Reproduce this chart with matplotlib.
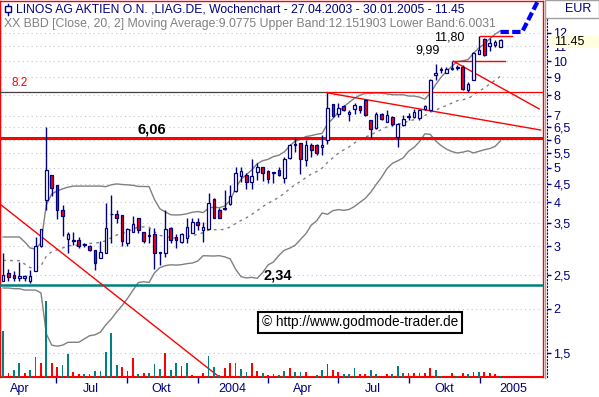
import numpy as np
import pandas as pd
import matplotlib
matplotlib.use('Agg')
import matplotlib.pyplot as plt
import matplotlib.dates as mdates
from matplotlib.patches import Rectangle
from matplotlib.lines import Line2D

# ---------------- data ----------------
dates = pd.date_range('2003-04-24', periods=93, freq='7D')

opens = [2.39, 2.52, 2.49, 2.44, 2.45, 2.39, 2.56, 3.00, 4.06, 4.77,
         4.47, 3.80, 3.14, 3.13, 3.13, 3.03, 3.01, 2.94, 2.79, 2.88,
         3.70, 3.70, 3.67, 3.06, 3.30, 3.62, 3.30, 3.21, 3.25, 2.88,
         2.88, 3.39, 3.18, 3.08, 3.16, 3.28, 3.52, 3.33, 3.36, 4.08,
         3.80, 3.83, 3.95, 4.29, 4.75, 4.78, 4.57, 4.86, 5.02, 4.91,
         4.82, 4.93, 4.67, 5.32, 5.81, 5.87, 5.26, 5.78, 5.80, 5.71,
         5.99, 7.55, 7.11, 7.46, 7.08, 7.32, 7.49, 7.77, 6.82, 6.49,
         7.07, 6.75, 6.97, 6.12, 6.60, 6.96, 6.96, 6.93, 7.34, 7.26,
         9.14, 9.43, 9.27, 9.47, 9.58, 9.65, 8.26, 8.87, 10.47, 11.53,
         11.00, 11.10, 10.98]
highs = [2.88, 2.59, 2.55, 2.72, 2.49, 2.58, 3.20, 3.37, 6.53, 4.77,
         4.47, 3.93, 3.29, 3.29, 3.20, 3.07, 3.03, 2.94, 3.10, 3.97,
         4.19, 3.80, 3.67, 3.38, 3.65, 3.62, 3.30, 3.38, 3.39, 2.89,
         3.80, 3.40, 3.26, 3.27, 3.60, 3.60, 3.62, 3.52, 4.24, 4.10,
         3.85, 4.33, 4.47, 5.04, 5.04, 4.84, 5.31, 5.15, 5.04, 4.93,
         4.86, 5.04, 5.36, 5.84, 6.06, 5.87, 5.99, 5.87, 5.84, 6.19,
         8.14, 7.58, 7.61, 7.53, 7.28, 7.61, 7.49, 7.80, 6.82, 7.17,
         7.13, 7.28, 7.00, 6.67, 7.05, 7.12, 7.31, 7.31, 7.54, 8.90,
         9.81, 9.63, 9.63, 9.99, 9.75, 9.75, 8.70, 10.64, 11.80, 11.60,
         11.60, 11.50, 11.52]
lows = [2.39, 2.40, 2.39, 2.39, 2.39, 2.37, 2.55, 2.99, 3.80, 4.15,
        3.58, 3.21, 2.88, 3.03, 2.97, 2.99, 2.92, 2.58, 2.79, 2.87,
        3.06, 3.50, 3.00, 3.00, 3.30, 3.28, 3.06, 3.06, 2.59, 2.66,
        2.81, 3.06, 2.97, 3.07, 3.06, 3.27, 3.34, 3.09, 3.36, 3.60,
        3.60, 3.80, 3.93, 4.26, 4.57, 4.37, 4.37, 4.62, 4.60, 4.54,
        4.52, 4.73, 4.52, 5.29, 5.55, 4.81, 5.06, 5.36, 5.43, 5.43,
        5.84, 6.94, 6.96, 7.24, 6.79, 7.07, 7.12, 7.00, 6.08, 6.45,
        6.82, 6.74, 6.55, 5.73, 6.56, 6.82, 6.93, 6.84, 7.28, 7.24,
        8.86, 9.27, 9.23, 9.44, 9.44, 8.29, 8.20, 8.87, 10.47, 10.34,
        10.70, 10.98, 10.95]
closes = [2.49, 2.46, 2.45, 2.48, 2.47, 2.48, 3.00, 3.35, 4.93, 4.38,
          3.80, 3.66, 3.26, 3.10, 3.00, 3.04, 2.93, 2.70, 2.90, 3.39,
          3.71, 3.60, 3.10, 3.36, 3.48, 3.34, 3.10, 3.22, 2.88, 2.89,
          3.36, 3.13, 3.13, 3.26, 3.40, 3.52, 3.45, 3.40, 3.97, 3.62,
          3.62, 3.84, 4.16, 4.84, 4.90, 4.57, 4.75, 5.02, 4.82, 4.66,
          4.85, 4.76, 5.29, 5.81, 5.83, 5.31, 5.81, 5.63, 5.50, 5.81,
          7.35, 6.99, 7.35, 7.27, 7.20, 7.51, 7.29, 7.05, 6.45, 7.11,
          6.87, 7.05, 6.63, 6.64, 6.86, 6.98, 7.19, 7.28, 7.49, 8.87,
          9.23, 9.45, 9.47, 9.57, 9.65, 8.35, 8.61, 10.53, 10.72, 10.40,
          11.28, 11.33, 11.45]

# Bollinger band values of the first 19 weeks (window reaches before the chart start)
bb_upper_first = [3.19, 3.19, 3.19, 3.19, 3.09, 2.97, 2.95, 3.07, 3.93, 4.22,
                  4.30, 4.36, 4.41, 4.44, 4.44, 4.44, 4.44, 4.44, 4.44]
bb_mid_first = [2.74, 2.74, 2.735, 2.735, 2.675, 2.615, 2.605, 2.645, 2.815, 2.90,
                2.935, 2.97, 3.01, 3.025, 3.025, 3.04, 3.06, 3.065, 3.08]
bb_lower_first = [2.29, 2.29, 2.28, 2.28, 2.26, 2.26, 2.26, 2.22, 1.70, 1.58,
                  1.57, 1.58, 1.61, 1.61, 1.61, 1.645, 1.68, 1.69, 1.72]
bb_period, bb_width = 20, 2

volume = [46000, 3700, 7000, 13700, 3700, 7000, 19700, 13700, 76000, 13700,
          9700, 12300, 22700, 4700, 2700, 2700, 2700, 5700, 5700, 25000,
          44000, 11700, 10300, 5700, 18700, 2700, 3700, 3700, 12700, 7700,
          23700, 6700, 13700, 10700, 13700, 1700, 0, 3700, 20700, 10300,
          1700, 8700, 13700, 13700, 7700, 4700, 13700, 5700, 3700, 2000,
          3000, 1700, 5700, 8700, 4700, 4700, 5000, 0, 2300, 7300,
          13300, 7300, 5300, 2700, 2700, 9300, 2700, 2700, 6700, 2700,
          1300, 2700, 2700, 10700, 3700, 3700, 4300, 3700, 3700, 9300,
          6700, 1300, 0, 3700, 1300, 3700, 2700, 5300, 5300, 5300,
          3700, 2700, 1300]
volume_dir = list("uduudu" "udud" "duuddu" "uuuuuu" "dddudu" "uuduudud"
                  "uduuudduuuddudduuduud" "uuudddu" "uudduudd" "uuudd"
                  "udduuddudududdd")

# horizontal levels
level_resist = 6.06
level_support = 2.34
level_82 = 8.2
level_82_red_from = '2004-06-16'

y_ticks = [1.5, 2, 2.5, 3, 3.5, 4, 4.5, 5, 5.5, 6, 6.5, 7, 8, 9, 10, 11, 12]
x_tick_dates = ['2003-07-01', '2003-10-01', '2004-01-01', '2004-04-01',
                '2004-07-01', '2004-10-01', '2005-01-01']
x_label_dates = ['2003-05-16', '2003-08-15', '2003-11-15', '2004-02-15',
                 '2004-05-16', '2004-08-15', '2004-11-15', '2005-02-12']
x_labels = ['Apr', 'Jul', 'Okt', '2004', 'Apr', 'Jul', 'Okt', '2005']

# drawn trend lines (date, price)
trend_2003 = (['2003-04-20', '2004-01-26'], [3.95, 1.30])
trend_upper = (['2004-06-16', '2005-03-20'], [8.14, 6.39])
trend_short = (['2004-11-27', '2005-03-18'], [9.99, 7.33])
line_999 = (['2004-11-27', '2005-02-02'], [9.99, 9.99])
line_1180 = (['2005-01-01', '2005-02-11'], [11.80, 11.80])
projection = (['2005-01-27', '2005-02-24', '2005-03-20'], [12.08, 12.08, 15.3])

# ---------------- figure ----------------
W, H = 599, 397
NAVY = '#000080'
TEAL = '#008080'
plt.rcParams['font.family'] = ['Liberation Sans', 'DejaVu Sans']

fig = plt.figure(figsize=(W / 100, H / 100), dpi=100)
fig.patch.set_facecolor('white')


def fx(px):
    return px / W


def fy(py):
    return 1 - py / H


ax = fig.add_axes([0, fy(377), fx(543), (377 - 1) / H])
ax.set_yscale('log')
ymin, ymax = 1.285, 14.77
ax.set_ylim(ymin, ymax)
xmin, xmax = pd.Timestamp('2003-04-20'), pd.Timestamp('2005-03-23')
ax.set_xlim(xmin, xmax)

for sp in ax.spines.values():
    sp.set_color('red')
    sp.set_linewidth(1.0)
ax.spines['bottom'].set_linewidth(1.5)

# grid
for t in y_ticks:
    ax.axhline(t, color='#c8c8c8', lw=0.8, ls=(0, (1, 3)), zorder=0)

x = mdates.date2num(dates)
o = np.array(opens); h = np.array(highs); l = np.array(lows); c = np.array(closes)
up = c >= o

# Bollinger bands: BBD[Close, 20, 2]; first weeks taken from the chart
s = pd.Series(closes)
mid = s.rolling(bb_period).mean()
sd = s.rolling(bb_period).std(ddof=0)
upper = (mid + bb_width * sd).to_numpy()
lower = (mid - bb_width * sd).to_numpy()
mid = mid.to_numpy()
n0 = len(bb_upper_first)
upper[:n0] = bb_upper_first
lower[:n0] = bb_lower_first
mid[:n0] = bb_mid_first
ax.plot(x, upper, color='#808080', lw=1, zorder=2)
ax.plot(x, lower, color='#808080', lw=1, zorder=2)
ax.plot(x, mid, color='#808080', lw=1, ls=(0, (2, 3)), zorder=2)

# levels
ax.axhline(level_resist, color='red', lw=2.2, zorder=5)
ax.axhline(level_support, color=TEAL, lw=1.8, zorder=5)
split = pd.Timestamp(level_82_red_from)
ax.plot([xmin, split], [level_82, level_82], color='#404040', lw=0.9, zorder=5)
ax.plot([split, xmax], [level_82, level_82], color='red', lw=0.9, zorder=5)

# trend lines
for d, p in [trend_2003, trend_upper, trend_short, line_999, line_1180]:
    ax.plot(pd.to_datetime(d), p, color='red', lw=1, zorder=5)
ax.plot(pd.to_datetime(projection[0]), projection[1], color='#0000ff', lw=3,
        ls=(0, (2, 0.8)), zorder=6, solid_capstyle='butt')

# candles
ax.vlines(x, l, h, color=NAVY, lw=1, zorder=7)
bottom = np.minimum(o, c)
top = np.maximum(o, c)
height = np.maximum(top - bottom, top * 0.004)
ax.bar(x, height, width=3.4, bottom=bottom,
       color=np.where(up, 'white', 'red'), edgecolor=NAVY, linewidth=0.9, zorder=8)

# texts on chart
ax.text(pd.Timestamp('2003-11-02'), level_resist * 1.012, '6,06', fontsize=10.5,
        fontweight='bold', ha='center', va='bottom', zorder=9)
ax.text(pd.Timestamp('2004-04-14'), level_support * 1.012, '2,34', fontsize=10.5,
        fontweight='bold', ha='center', va='bottom', zorder=9)
ax.text(pd.Timestamp('2003-05-16'), level_82 * 1.02, '8.2', fontsize=8.5,
        color='red', ha='center', va='bottom', zorder=9)
ax.text(pd.Timestamp('2004-10-24'), 10.33, '9,99', fontsize=9,
        ha='center', va='bottom', zorder=9)
ax.text(pd.Timestamp('2004-11-22'), 11.24, '11,80', fontsize=9,
        ha='center', va='bottom', zorder=9)

# x ticks
ax.set_xticks(pd.to_datetime(x_tick_dates))
ax.set_xticklabels([])
ax.tick_params(axis='x', length=4, color=NAVY, width=1, direction='out')
ax.set_yticks([])
ax.minorticks_off()
ax.set_yticks([], minor=True)
for d, lab in zip(pd.to_datetime(x_label_dates), x_labels):
    ax.text(d, -0.017, lab, transform=ax.get_xaxis_transform(), ha='center',
            va='top', fontsize=9, color=NAVY)

# volume
axv = ax.twinx()
axv.set_ylim(0, 376000)
axv.set_xlim(xmin, xmax)
vcol = [TEAL if v == 'u' else 'red' for v in volume_dir]
axv.bar(x, volume, width=2.3, color=vcol, zorder=3)
axv.set_yticks([])
for sp in axv.spines.values():
    sp.set_visible(False)
axv.patch.set_visible(False)

# watermark
axv.text(0.663, 0.146, '\u00a9 http://www.godmode-trader.de', transform=ax.transAxes,
         ha='center', va='center', fontsize=9.8, color='black', zorder=10,
         bbox=dict(boxstyle='square,pad=0.25', facecolor='white', edgecolor='black', lw=1.5))

# right price axis
axr = fig.add_axes([fx(543), fy(377), fx(4), (377 - 1) / H])
axr.set_yscale('log')
axr.set_ylim(ymin, ymax)
axr.patch.set_visible(False)
axr.set_xticks([])
for k in ['left', 'top', 'bottom']:
    axr.spines[k].set_visible(False)
axr.spines['right'].set_color(NAVY)
axr.spines['right'].set_linestyle((0, (1, 2)))
axr.yaxis.tick_right()
axr.set_yticks(y_ticks)
axr.set_yticklabels([('%g' % t).replace('.', ',') for t in y_ticks])
axr.minorticks_off()
axr.tick_params(axis='y', direction='out', length=3, width=1, color=NAVY,
                pad=1.5, labelsize=9, labelcolor=NAVY)

# shadow line next to the right border
fig.add_artist(Line2D([fx(544.5), fx(544.5)], [fy(378), fy(18)], color='#a0a0a0', lw=1))

# EUR header box
fig.add_artist(Rectangle((fx(545), fy(18)), fx(54), 18 / H, facecolor='white',
                         edgecolor='#a0a0a0', lw=1, zorder=10))
fig.text(fx(578), fy(9), 'EUR', ha='center', va='center', fontsize=9, color=NAVY, zorder=11)

# last price box
fig.add_artist(Rectangle((fx(549), fy(48)), fx(50), 12 / H, facecolor='#ffffe0',
                         edgecolor='none', zorder=10))
fig.text(fx(554), fy(42), '11.45', ha='left', va='center', fontsize=9, color='black', zorder=11)

# header
fig.add_artist(Rectangle((fx(5), fy(12)), fx(6), 6 / H, facecolor='white', edgecolor=NAVY,
                         lw=1, zorder=11))
fig.add_artist(Line2D([fx(8), fx(8)], [fy(4), fy(15)], color=NAVY, lw=1, zorder=10))
fig.text(fx(16), fy(9), 'LINOS AG AKTIEN O.N. ,LIAG.DE, Wochenchart - 27.04.2003 - 30.01.2005 - 11.45',
         ha='left', va='center', fontsize=8.7, color=NAVY, zorder=11)
fig.text(fx(4), fy(24), 'XX BBD [Close, 20, 2] Moving Average:9.0775 Upper Band:12.151903 Lower Band:6.0031',
         ha='left', va='center', fontsize=8.8, color='#808080', zorder=11)

fig.savefig('out.png', dpi=100)
